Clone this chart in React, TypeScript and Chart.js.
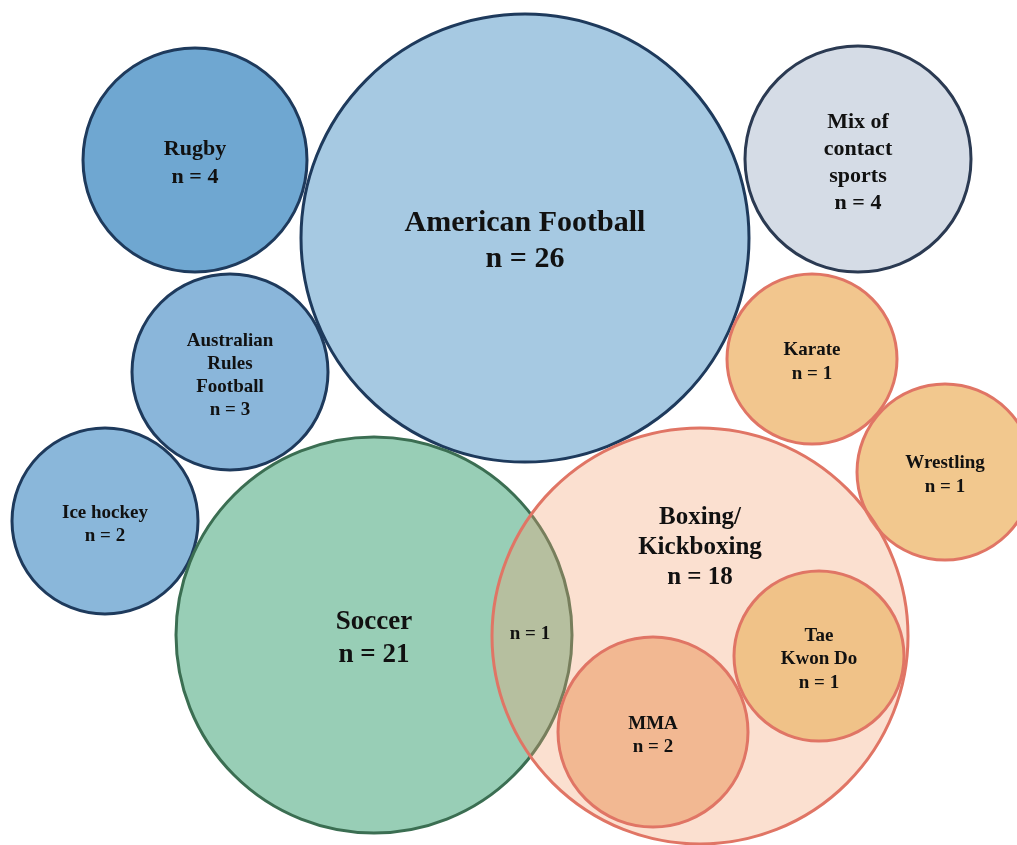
import React, { useEffect, useRef } from "react";
import { Chart, registerables } from "chart.js";

Chart.register(...registerables);

// ---- data ----
const sports = [
  "Rugby",
  "American Football",
  "Mix of contact sports",
  "Australian Rules Football",
  "Ice hockey",
  "Karate",
  "Wrestling",
  "Soccer",
  "Boxing/Kickboxing",
  "Tae Kwon Do",
  "MMA",
];
const counts = [4, 26, 4, 3, 2, 1, 1, 21, 18, 1, 2];
const labelLines = [
  ["Rugby"],
  ["American Football"],
  ["Mix of", "contact", "sports"],
  ["Australian", "Rules", "Football"],
  ["Ice hockey"],
  ["Karate"],
  ["Wrestling"],
  ["Soccer"],
  ["Boxing/", "Kickboxing"],
  ["Tae", "Kwon Do"],
  ["MMA"],
];
// bubble centres / radii in the layout's own units
const xs = [195, 525, 858, 230, 105, 812, 945, 374, 700, 819, 653];
const ys = [160, 238, 159, 372, 521, 359, 472, 635, 636, 656, 732];
const radii = [112, 224, 113, 98, 93, 85, 88, 198, 208, 85, 95];
const labelYs = [160, 238, 159, 372, 521, 359, 472, 635, 544, 656, 732];
// shared (overlap) count between Soccer and Boxing/Kickboxing
const overlapCount = 1;
const overlapX = 530;
const overlapY = 631;

// ---- styles ----
const fills = [
  "#6fa7d1",
  "#a6c9e2",
  "#d5dce6",
  "#8ab6da",
  "#8ab7da",
  "#f2c68e",
  "#f2c88e",
  "#98ceb6",
  "rgba(243,161,113,0.33)",
  "#f0c288",
  "#f2b892",
];
const strokes = [
  "#1e3a5c",
  "#1e3a5c",
  "#2b3a52",
  "#1e3a5c",
  "#1e3a5c",
  "#e07565",
  "#e07565",
  "#3b6e52",
  "#e07565",
  "#e07565",
  "#e07565",
];
const fontSizes = [22, 30, 22, 19, 19, 19, 19, 27, 25, 19, 19];
const lineHeights = [28, 36, 27, 23, 23, 24, 24, 33, 30, 23.5, 23];
const textShift = 3.5;

const W = 1017;
const H = 845;

const labelPlugin = {
  id: "bubbleLabels",
  afterDatasetsDraw(chart: any) {
    const ctx = chart.ctx as CanvasRenderingContext2D;
    const xScale = chart.scales.x;
    const yScale = chart.scales.y;
    ctx.save();
    ctx.fillStyle = "#111111";
    ctx.textAlign = "center";
    ctx.textBaseline = "middle";
    sports.forEach((_, i) => {
      const lines = [...labelLines[i], `n = ${counts[i]}`];
      const cx = xScale.getPixelForValue(xs[i]);
      const cy = yScale.getPixelForValue(labelYs[i]) + textShift;
      const lh = lineHeights[i];
      ctx.font = `bold ${fontSizes[i]}px "Liberation Serif", "Times New Roman", serif`;
      lines.forEach((t, j) => {
        ctx.fillText(t, cx, cy + (j - (lines.length - 1) / 2) * lh);
      });
    });
    ctx.font = `bold 19px "Liberation Serif", "Times New Roman", serif`;
    ctx.fillText(
      `n = ${overlapCount}`,
      xScale.getPixelForValue(overlapX),
      yScale.getPixelForValue(overlapY) + textShift
    );
    ctx.restore();
  },
};

export default function App() {
  const ref = useRef<HTMLCanvasElement | null>(null);
  useEffect(() => {
    if (!ref.current) return;
    const chart = new Chart(ref.current, {
      type: "bubble",
      data: {
        datasets: [
          {
            label: "Contact sports",
            data: sports.map((_, i) => ({ x: xs[i], y: ys[i], r: radii[i] })),
            backgroundColor: fills,
            borderColor: strokes,
            borderWidth: 3,
            hoverBorderWidth: 3,
            clip: false as any,
          },
        ],
      },
      options: {
        responsive: false,
        animation: false,
        devicePixelRatio: 1,
        events: [],
        layout: { padding: 0, autoPadding: false } as any,
        plugins: {
          legend: { display: false },
          tooltip: { enabled: false },
        },
        scales: {
          x: { type: "linear", min: 0, max: W, display: false },
          y: { type: "linear", min: 0, max: H, reverse: true, display: false },
        },
      },
      plugins: [labelPlugin],
    });
    return () => chart.destroy();
  }, []);
  return (
    <div
      style={{
        position: "absolute",
        left: 0,
        top: 0,
        width: W,
        height: H,
        background: "#ffffff",
      }}
    >
      <canvas ref={ref} width={W} height={H} style={{ width: W, height: H }} />
    </div>
  );
}
